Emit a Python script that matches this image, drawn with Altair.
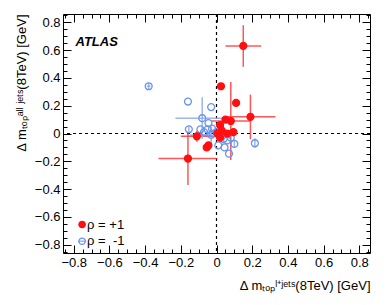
import altair as alt
import pandas as pd

# rho = +1 (red, filled)
red_x    = [0.15, 0.025, 0.11, 0.19, 0.08, 0.05, 0.02, 0.03, 0.095, -0.11, -0.16, -0.045, -0.055, 0.02, 0.005, 0.06]
red_y    = [0.63, 0.34, 0.22, 0.12, 0.09, 0.10, 0.06, 0.02, 0.01, -0.02, -0.18, -0.085, -0.10, -0.03, 0.0, 0.0]
red_xerr = [0.10, 0.0, 0.0, 0.14, 0.11, 0.0, 0.0, 0.0, 0.0, 0.09, 0.165, 0.0, 0.0, 0.0, 0.0, 0.02]
red_yerr = [0.15, 0.0, 0.0, 0.16, 0.28, 0.0, 0.0, 0.0, 0.0, 0.04, 0.19, 0.0, 0.0, 0.0, 0.0, 0.02]

# rho = -1 (blue, open)
blue_x    = [-0.38, -0.16, -0.03, -0.08, -0.155, -0.09, -0.045, -0.025, -0.05, 0.0, 0.01, 0.045, 0.07, 0.10, 0.215, 0.06, 0.04, 0.02, -0.02, 0.03, -0.07, 0.08, -0.03]
blue_y    = [0.34, 0.23, 0.19, 0.11, 0.03, 0.03, 0.075, 0.035, 0.03, 0.01, -0.085, -0.10, -0.145, -0.075, -0.07, -0.05, -0.04, -0.02, 0.0, 0.0, 0.01, -0.03, -0.01]
blue_xerr = [0.01, 0.0, 0.0, 0.15, 0.0, 0.0, 0.0, 0.0, 0.0, 0.0, 0.0, 0.0, 0.0, 0.0, 0.0, 0.0, 0.0, 0.0, 0.0, 0.0, 0.0, 0.0, 0.12]
blue_yerr = [0.025, 0.0, 0.0, 0.15, 0.02, 0.0, 0.0, 0.0, 0.0, 0.0, 0.0, 0.0, 0.0, 0.03, 0.035, 0.0, 0.0, 0.0, 0.0, 0.0, 0.0, 0.0, 0.06]

groups = ["ρ = +1", "ρ =\u00a0\u00a0-1"]
major_ticks = [-0.8, -0.6, -0.4, -0.2, 0.0, 0.2, 0.4, 0.6, 0.8]
minor_ticks = [round(-0.85 + 0.05 * i, 2) for i in range(35)]
dom = [-0.86, 0.86]

RED, RED_BAR = "#ff1010", "#ff3a3a"
BLUE, BLUE_BAR = "#6a94ec", "#8aa9ee"

rows = []
for g, xs, ys, xe, ye in [(groups[1], blue_x, blue_y, blue_xerr, blue_yerr),
                          (groups[0], red_x, red_y, red_xerr, red_yerr)]:
    for i in range(len(xs)):
        rows.append({"x": xs[i], "y": ys[i], "xe": xe[i], "ye": ye[i], "group": g})
df = pd.DataFrame(rows)
one = pd.DataFrame({"k": [0]})

FONT = "Liberation Sans"
sc = alt.Scale(domain=dom, nice=False, zero=False)

def ax(orient, values, size, labels, title=None, tpad=4):
    kw = dict(orient=orient, values=values, tickSize=size, offset=-size, domain=False,
              grid=False, labels=labels, tickColor="black", tickWidth=1)
    if labels:
        kw.update(format=".1~f", labelFont=FONT, labelFontSize=13, labelColor="black",
                  labelPadding=3)
    if title:
        kw.update(title=title, titleFont=FONT, titleFontSize=13, titleFontWeight="normal",
                  titleColor="black", titleAnchor="end", titlePadding=tpad)
    else:
        kw.update(title=None)
    return alt.Axis(**kw)

xtitle = "Δ mₜₒₚˡ⁺ʲᵉᵗˢ(8TeV) [GeV]"
ytitle = "Δ mₜₒₚᵃˡˡ ʲᵉᵗˢ(8TeV) [GeV]"

base = alt.Chart(df).transform_calculate(
    xlo="datum.x - datum.xe", xhi="datum.x + datum.xe",
    ylo="datum.y - datum.ye", yhi="datum.y + datum.ye")

bar_color = alt.Color("group:N", scale=alt.Scale(domain=groups, range=[RED_BAR, BLUE_BAR]), legend=None)

hbars = base.mark_rule(strokeWidth=1.5, opacity=0.85).encode(
    x=alt.X("xlo:Q", scale=sc, axis=ax("bottom", major_ticks, 8, True, xtitle, tpad=10)),
    x2="xhi:Q",
    y=alt.Y("y:Q", scale=sc, axis=ax("left", major_ticks, 8, True, ytitle, tpad=6)),
    color=bar_color)

vbars = base.mark_rule(strokeWidth=1.5, opacity=0.85).encode(
    x=alt.X("x:Q", scale=sc, axis=ax("bottom", minor_ticks, 4, False)),
    y=alt.Y("ylo:Q", scale=sc, axis=ax("left", minor_ticks, 4, False)),
    y2="yhi:Q",
    color=bar_color)

points = base.mark_point(shape="circle", size=48, strokeWidth=1.3, opacity=1).encode(
    x=alt.X("x:Q", scale=sc, axis=ax("top", major_ticks, 8, False)),
    y=alt.Y("y:Q", scale=sc, axis=ax("right", major_ticks, 8, False)),
    fill=alt.Fill("group:N", scale=alt.Scale(domain=groups, range=[RED, "transparent"]), legend=None),
    stroke=alt.Stroke("group:N", scale=alt.Scale(domain=groups, range=[RED, BLUE]), legend=None))

vline = alt.Chart(one).mark_rule(color="black", strokeDash=[3, 3], strokeWidth=1.2).encode(
    x=alt.XDatum(0, type="quantitative", scale=sc, axis=ax("top", minor_ticks, 4, False)))
hline = alt.Chart(one).mark_rule(color="black", strokeDash=[3, 3], strokeWidth=1.2).encode(
    y=alt.YDatum(0, type="quantitative", scale=sc, axis=ax("right", minor_ticks, 4, False)))

def qd(v):
    return dict(datum=v, type="quantitative", scale=sc, axis=None)

atlas = alt.Chart(one).mark_text(
    font=FONT, fontSize=13, fontWeight="bold", fontStyle="italic", align="left",
    baseline="alphabetic", color="black", text="ATLAS").encode(
    x=alt.XDatum(**qd(-0.79)), y=alt.YDatum(**qd(0.63)))

# legend (drawn in data coordinates)
leg_layers = []
for lab, ly, fillc, strokec in [(groups[0], -0.655, RED, RED), (groups[1], -0.775, "transparent", BLUE)]:
    if lab == groups[1]:
        leg_layers.append(alt.Chart(one).mark_rule(color=BLUE_BAR, strokeWidth=1.3).encode(
            x=alt.XDatum(**qd(-0.775)), x2=alt.X2Datum(-0.73), y=alt.YDatum(**qd(ly))))
    leg_layers.append(alt.Chart(one).mark_point(shape="circle", size=40, strokeWidth=1.3,
                                                fill=fillc, stroke=strokec, opacity=1).encode(
        x=alt.XDatum(**qd(-0.753)), y=alt.YDatum(**qd(ly))))
    leg_layers.append(alt.Chart(one).mark_text(
        font=FONT, fontSize=13, align="left", baseline="middle", color="black", text=lab).encode(
        x=alt.XDatum(**qd(-0.725)), y=alt.YDatum(**qd(ly))))

chart = alt.layer(vline, hline, hbars, vbars, points, atlas, *leg_layers).resolve_axis(
    x="independent", y="independent").properties(
    width=307, height=239,
    autosize=alt.AutoSizeParams(type="none"),
    padding={"left": 55, "top": 6, "right": 12, "bottom": 44}
).configure_view(stroke="black", strokeWidth=1)

chart.save("out.html", embed_options={"renderer": "svg", "actions": False})
